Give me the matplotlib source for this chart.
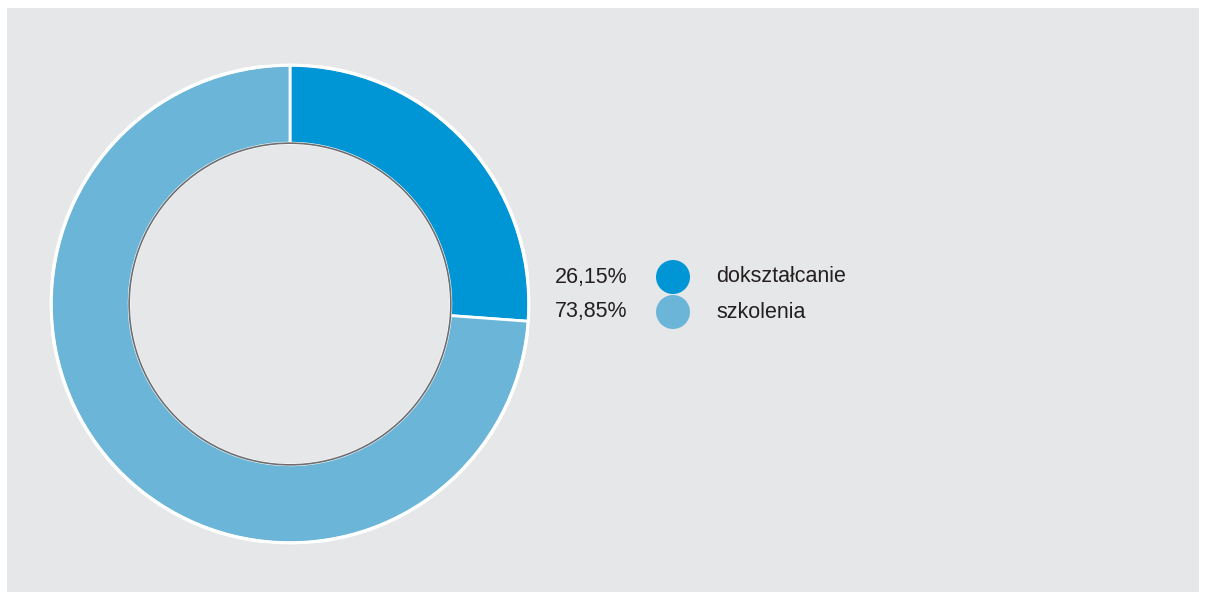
import matplotlib.pyplot as plt
from matplotlib.patches import Rectangle, Circle

labels = ['dokształcanie', 'szkolenia']
values = [26.15, 73.85]
pct_text = ['26,15%', '73,85%']
colors = ['#0096d6', '#6bb6d8']

fig = plt.figure(figsize=(12.06, 6), dpi=100)
fig.patch.set_facecolor('white')
# gray panel
fig.patches.append(Rectangle((7 / 1206, 8 / 600), 1192 / 1206, 584 / 600,
                             transform=fig.transFigure, facecolor='#e6e7e8',
                             edgecolor='none', zorder=-5))

cx, cy, r = 290, 304, 239
ax = fig.add_axes([(cx - r) / 1206, (600 - cy - r) / 600, 2 * r / 1206, 2 * r / 600])
ax.set_zorder(2)
ax.set_facecolor('none')
ax.pie(values, colors=colors, startangle=90, counterclock=False, radius=1,
       wedgeprops=dict(width=0.327, edgecolor='white', linewidth=2))
ax.add_patch(Circle((0, 0), 0.673, facecolor='none', edgecolor='#6d6e71', linewidth=1.2))
ax.add_patch(Circle((0, 0), 1.0, facecolor='none', edgecolor='white', linewidth=2.5))
ax.set_xlim(-1, 1)
ax.set_ylim(-1, 1)
ax.set_aspect('equal')
ax.axis('off')

# legend
ys = [277, 312]
for i in range(len(labels)):
    y = 1 - ys[i] / 600
    fig.text(627 / 1206, y, pct_text[i], ha='right', va='center', fontsize=15.5,
             color='#231f20', family='Liberation Sans')
    fig.patches.append(Circle((673, 600 - ys[i]), 17, transform=None,
                              facecolor=colors[i], edgecolor='none', zorder=3))
    fig.text(716 / 1206, y, labels[i], ha='left', va='center', fontsize=15.5,
             color='#231f20', family='Liberation Sans')

fig.savefig('out.png', dpi=100, facecolor='white')
